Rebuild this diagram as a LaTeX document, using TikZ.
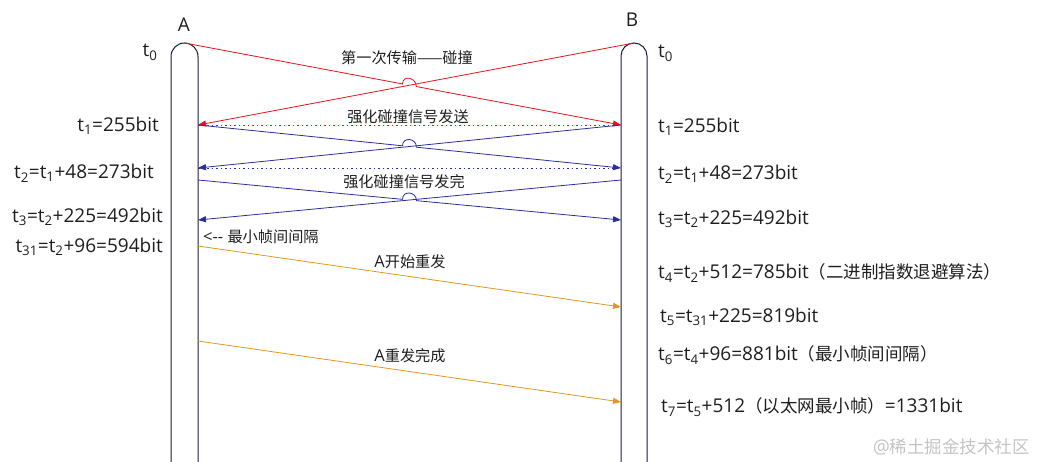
\documentclass[tikz,border=0pt]{standalone}
\usepackage{fontspec}
\setmainfont{Open Sans}
\newfontfamily\cjk{Noto Sans CJK SC}[Scale=0.92]
\usepackage{tikz}
\usetikzlibrary{arrows.meta,calc,intersections}
\definecolor{ink}{HTML}{1E1E1E}
\definecolor{life}{HTML}{1B1B3C}
\definecolor{jam}{HTML}{E8121A}
\definecolor{navy}{HTML}{2A2E9C}
\definecolor{amber}{HTML}{E3961F}
\definecolor{wmgray}{HTML}{C4C4C4}

% line that jumps over another one at a crossing
\newcommand{\hopline}[4]{%
  \draw[#1] (#2) -- ($(#4)!7pt!(#2)$)
    .. controls +(0,-9.3) and +(0,-9.3) .. ($(#4)!7pt!(#3)$) -- (#3);}

\begin{document}
\begin{tikzpicture}[
  x=1pt,y=-1pt,
  every node/.style={font=\fontsize{19}{23}\selectfont,text=ink,inner sep=0pt},
  note/.style={font=\fontsize{16.5}{20}\selectfont},
  tube/.style={draw=life,line width=1pt},
  msg/.style={line width=0.8pt,-{Triangle[length=8pt,width=6pt]}},
  redmsg/.style={msg,color=jam},
  bluemsg/.style={msg,color=navy},
  orgmsg/.style={msg,color=amber},
  dots/.style={line width=0.8pt,dash pattern=on 1.5pt off 3pt}
]
\useasboundingbox (0,0) rectangle (1037,462);

% stations
\draw[tube] (171,462) -- (171,56.5) arc[start angle=180,end angle=360,radius=13.5] -- (198,462);
\draw[tube] (621,462) -- (621,56) arc[start angle=180,end angle=360,radius=13] -- (647,462);
\node (A) at (184,25) {A};
\node (B) at (632,20) {B};

\coordinate (At) at (184.5,43);
\coordinate (Bt) at (634,43);
\coordinate (A1) at (198,125);
\coordinate (B1) at (621,125);
\coordinate (A2) at (198,168);
\coordinate (B2) at (621,168);
\coordinate (A2s) at (198,180);
\coordinate (B2s) at (621,180);
\coordinate (A3) at (198,220);
\coordinate (B3) at (621,220);
\coordinate (A4) at (198,246);
\coordinate (B5) at (621,307);
\coordinate (A6) at (198,341);
\coordinate (B7) at (621,402);

% first transmission, collision
\path[name path=ra] (At) -- (B1);
\path[name path=rb] (Bt) -- (A1);
\path[name intersections={of=ra and rb,by=xr}];
\draw[redmsg] (Bt) -- (A1);
\hopline{redmsg}{At}{B1}{xr}
\draw[dots,jam] (A1) -- (B1);

% jam signal
\path[name path=ja] (A1) -- (B2);
\path[name path=jb] (B1) -- (A2);
\path[name intersections={of=ja and jb,by=xj}];
\draw[bluemsg] (B1) -- (A2);
\hopline{bluemsg}{A1}{B2}{xj}
\draw[dots,navy] (A2) -- (B2);

\path[name path=ka] (A2s) -- (B3);
\path[name path=kb] (B2s) -- (A3);
\path[name intersections={of=ka and kb,by=xk}];
\draw[bluemsg] (B2s) -- (A3);
\hopline{bluemsg}{A2s}{B3}{xk}

% retransmission by A
\draw[orgmsg] (A4) -- (B5);
\draw[orgmsg] (A6) -- (B7);

\node[note] (l1) at (407,58) {\cjk 第一次传输——碰撞};
\node[note] (l2) at (408,117) {\cjk 强化碰撞信号发送};
\node[note] (l3) at (404,182) {\cjk 强化碰撞信号发完};
\node[note,anchor=west] (l4) at (203,237) {<{-}{-} {\cjk 最小帧间间隔}};
\node[note] (l5) at (410,262) {A{\cjk 开始重发}};
\node[note] (l6) at (410,356) {A{\cjk 重发完成}};

% times at A
\node (ta0) at (150,52) {t\textsubscript{0}};
\node[anchor=east] (ta1) at (159,126) {t\textsubscript{1}=255bit};
\node[anchor=east] (ta2) at (154,173) {t\textsubscript{2}=t\textsubscript{1}+48=273bit};
\node[anchor=east] (ta3) at (163,217) {t\textsubscript{3}=t\textsubscript{2}+225=492bit};
\node[anchor=east] (ta31) at (163,247) {t\textsubscript{31}=t\textsubscript{2}+96=594bit};

% times at B
\node[anchor=west] (tb0) at (658,53) {t\textsubscript{0}};
\node[anchor=west] (tb1) at (658,127) {t\textsubscript{1}=255bit};
\node[anchor=west] (tb2) at (658,174) {t\textsubscript{2}=t\textsubscript{1}+48=273bit};
\node[anchor=west] (tb3) at (658,219) {t\textsubscript{3}=t\textsubscript{2}+225=492bit};
\node[anchor=west] (tb4) at (658,273) {t\textsubscript{4}=t\textsubscript{2}+512=785bit{\cjk （二进制指数退避算法）}};
\node[anchor=west] (tb5) at (660,317) {t\textsubscript{5}=t\textsubscript{31}+225=819bit};
\node[anchor=west] (tb6) at (658,355) {t\textsubscript{6}=t\textsubscript{4}+96=881bit{\cjk （最小帧间间隔）}};
\node[anchor=west] (tb7) at (661,407) {t\textsubscript{7}=t\textsubscript{5}+512{\cjk （以太网最小帧）}=1331bit};

\node[anchor=east,text=wmgray] (wm) at (1030,447) {@{\cjk 稀土掘金技术社区}};
\end{tikzpicture}
\end{document}
